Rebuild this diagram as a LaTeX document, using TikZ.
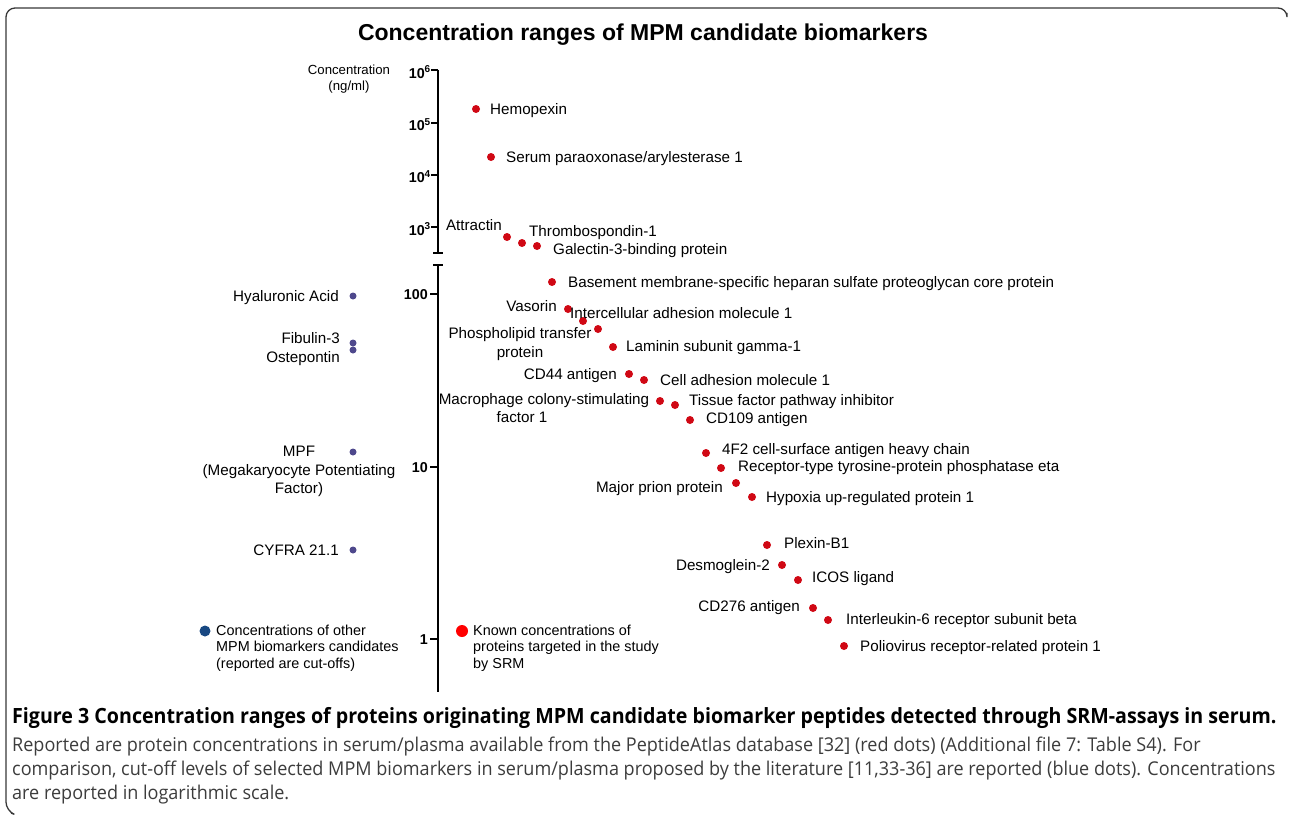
\documentclass[tikz,border=0pt]{standalone}
\usepackage{fontspec}
\setmainfont{Liberation Sans}
\newfontfamily\capfont[FakeStretch=0.95]{Open Sans}
\newfontfamily\capbf[FakeStretch=0.935]{Open Sans}
\definecolor{dotred}{RGB}{208,8,20}
\definecolor{keyred}{RGB}{255,0,0}
\definecolor{dotblue}{RGB}{78,72,140}
\definecolor{keyblue}{RGB}{24,72,130}
\definecolor{capgray}{RGB}{60,60,60}
\definecolor{framegray}{RGB}{55,55,55}
\begin{document}
\begin{tikzpicture}[x=1pt, y=-1pt,
    reddot/.style={circle, fill=dotred, inner sep=0pt, minimum size=8pt},
    bluedot/.style={circle, fill=dotblue, inner sep=0pt, minimum size=7pt},
    lbl/.style={inner sep=0pt, font=\fontsize{15.2}{18.3}\selectfont, text height=10.9pt, text depth=0pt},
    mlbl/.style={inner sep=0pt, font=\fontsize{15.2}{18.3}\selectfont},
    keylbl/.style={inner sep=0pt, align=left, font=\fontsize{14.4}{16.5}\selectfont},
    ticklbl/.style={inner sep=0pt, anchor=east, font=\fontsize{14.3}{16}\selectfont\bfseries},
    axisline/.style={line width=2pt},
    capline/.style={inner sep=0pt, anchor=west, text height=13pt, text depth=0pt}]
    \useasboundingbox (0,0) rectangle (1290,816);
    % frame
    \draw [framegray, line width=1.3pt, rounded corners=9pt] (1287,13) -- (1287,8) -- (6,8) -- (6,811) -- (11,813);
    \node [font=\fontsize{23}{26}\selectfont\bfseries] (title) at (643,35) {Concentration ranges of MPM candidate biomarkers};
    \node [inner sep=0pt, align=center, font=\fontsize{13.2}{16}\selectfont] (unit) at (349,79) {Concentration\\(ng/ml)};
    % axis, upper part
    \draw [axisline] (438,70) -- (438,253);
    \draw [axisline] (433,253) -- (443,253);
    \draw [axisline] (431,70) -- (438,70);
    \draw [axisline] (431,123) -- (438,123);
    \draw [axisline] (431,175) -- (438,175);
    \draw [axisline] (431,227) -- (438,227);
    \node [ticklbl] (e6) at (431,72) {10\textsuperscript{6}};
    \node [ticklbl] (e5) at (431,125) {10\textsuperscript{5}};
    \node [ticklbl] (e4) at (431,177) {10\textsuperscript{4}};
    \node [ticklbl] (e3) at (431,229) {10\textsuperscript{3}};
    % axis, lower part
    \draw [axisline] (438,265) -- (438,692);
    \draw [axisline] (433,265) -- (443,265);
    \draw [axisline] (430,294) -- (438,294);
    \draw [axisline] (430,467) -- (438,467);
    \draw [axisline] (430,639) -- (438,639);
    \node [ticklbl] (e2) at (428,295) {100};
    \node [ticklbl] (e1) at (428,468) {10};
    \node [ticklbl] (e0) at (428,640) {1};
    % proteins measured by SRM
    \node [reddot] (hpx) at (476,109) {};
    \node [lbl, anchor=west] (hpxlbl) at (490,109) {Hemopexin};
    \node [reddot] (pon) at (491,157) {};
    \node [lbl, anchor=west] (ponlbl) at (506,157) {Serum paraoxonase/arylesterase 1};
    \node [reddot] (atrn) at (507,237) {};
    \node [lbl, anchor=east] (atrnlbl) at (502,225) {Attractin};
    \node [reddot] (thbs) at (522,243) {};
    \node [lbl, anchor=west] (thbslbl) at (529,231) {Thrombospondin-1};
    \node [reddot] (lgals) at (537,246) {};
    \node [lbl, anchor=west] (lgalslbl) at (553,249) {Galectin-3-binding protein};
    \node [reddot] (hspg) at (552,282) {};
    \node [lbl, anchor=west] (hspglbl) at (568,282) {Basement membrane-specific heparan sulfate proteoglycan core protein};
    \node [reddot] (vasn) at (568,309) {};
    \node [lbl, anchor=east] (vasnlbl) at (557,306) {Vasorin};
    \node [reddot] (icam) at (583,321) {};
    \node [lbl, anchor=west] (icamlbl) at (570,313) {Intercellular adhesion molecule 1};
    \node [reddot] (pltp) at (598,329) {};
    \node [mlbl, align=center] (pltplbl) at (520,344) {Phospholipid transfer\\protein};
    \node [reddot] (lamc) at (613,347) {};
    \node [lbl, anchor=west] (lamclbl) at (626,346) {Laminin subunit gamma-1};
    \node [reddot] (cd44) at (629,374) {};
    \node [lbl, anchor=east] (cd44lbl) at (617,374) {CD44 antigen};
    \node [reddot] (cadm) at (644,380) {};
    \node [lbl, anchor=west] (cadmlbl) at (660,380) {Cell adhesion molecule 1};
    \node [reddot] (csf) at (660,401) {};
    \node [mlbl, align=center] (csflbl) at (544,408) {Macrophage colony-stimulating\\factor 1\hspace*{44pt}};
    \node [reddot] (tfpi) at (675,405) {};
    \node [lbl, anchor=west] (tfpilbl) at (689,400) {Tissue factor pathway inhibitor};
    \node [reddot] (cd109) at (690,420) {};
    \node [lbl, anchor=west] (cd109lbl) at (706,418) {CD109 antigen};
    \node [reddot] (slc) at (706,453) {};
    \node [lbl, anchor=west] (slclbl) at (722,449) {4F2 cell-surface antigen heavy chain};
    \node [reddot] (ptprj) at (721,468) {};
    \node [lbl, anchor=west] (ptprjlbl) at (738,466) {Receptor-type tyrosine-protein phosphatase eta};
    \node [reddot] (prnp) at (736,483) {};
    \node [lbl, anchor=east] (prnplbl) at (723,487) {Major prion protein};
    \node [reddot] (hyou) at (752,497) {};
    \node [lbl, anchor=west] (hyoulbl) at (766,497) {Hypoxia up-regulated protein 1};
    \node [reddot] (plxnb) at (767,545) {};
    \node [lbl, anchor=west] (plxnblbl) at (784,543) {Plexin-B1};
    \node [reddot] (dsg) at (782,565) {};
    \node [lbl, anchor=east] (dsglbl) at (770,565) {Desmoglein-2};
    \node [reddot] (icosl) at (798,580) {};
    \node [lbl, anchor=west] (icosllbl) at (812,577) {ICOS ligand};
    \node [reddot] (cd276) at (813,608) {};
    \node [lbl, anchor=east] (cd276lbl) at (800,606) {CD276 antigen};
    \node [reddot] (il6st) at (828,620) {};
    \node [lbl, anchor=west] (il6stlbl) at (846,619) {Interleukin-6 receptor subunit beta};
    \node [reddot] (pvrl) at (844,646) {};
    \node [lbl, anchor=west] (pvrllbl) at (860,646) {Poliovirus receptor-related protein 1};
    % other biomarkers (cut-offs)
    \node [bluedot] (ha) at (353,296) {};
    \node [lbl, anchor=east] (halbl) at (339,296) {Hyaluronic Acid};
    \node [bluedot] (fbln) at (353,343) {};
    \node [bluedot] (spp) at (353,350) {};
    \node [mlbl, align=right, anchor=east] (fblnlbl) at (340,349) {Fibulin-3\\Ostepontin};
    \node [bluedot] (mpf) at (353,452) {};
    \node [mlbl, align=center] (mpflbl) at (299,471.5) {MPF\\(Megakaryocyte Potentiating\\Factor)};
    \node [bluedot] (cyfra) at (353,550) {};
    \node [lbl, anchor=east] (cyfralbl) at (339,550) {CYFRA 21.1};
    % legend
    \node [circle, fill=keyblue, inner sep=0pt, minimum size=11pt] (keyb) at (205,631) {};
    \node [keylbl, anchor=west] (keyblbl) at (216,648) {Concentrations of other\\MPM biomarkers candidates\\(reported are cut-offs)};
    \node [circle, fill=keyred, inner sep=0pt, minimum size=12pt] (keyr) at (462,631) {};
    \node [keylbl, anchor=west] (keyrlbl) at (473,648) {Known concentrations of\\proteins targeted in the study\\by SRM};
    % caption
    \node [capline, font=\fontsize{21}{24}\capbf\bfseries] (capa) at (12,717) {Figure 3 Concentration ranges of proteins originating MPM candidate biomarker peptides detected through SRM-assays in serum.};
    \node [capline, text=capgray, font=\fontsize{19}{24}\capfont] (capb) at (12,745) {Reported are protein concentrations in serum/plasma available from the PeptideAtlas database [32] (red dots) (Additional file 7: Table S4). For};
    \node [capline, text=capgray, font=\fontsize{19}{24}\capfont] (capc) at (12,769) {comparison, cut-off levels of selected MPM biomarkers in serum/plasma proposed by the literature [11,33-36] are reported (blue dots). Concentrations};
    \node [capline, text=capgray, font=\fontsize{19}{24}\capfont] (capd) at (12,793) {are reported in logarithmic scale.};
\end{tikzpicture}
\end{document}
